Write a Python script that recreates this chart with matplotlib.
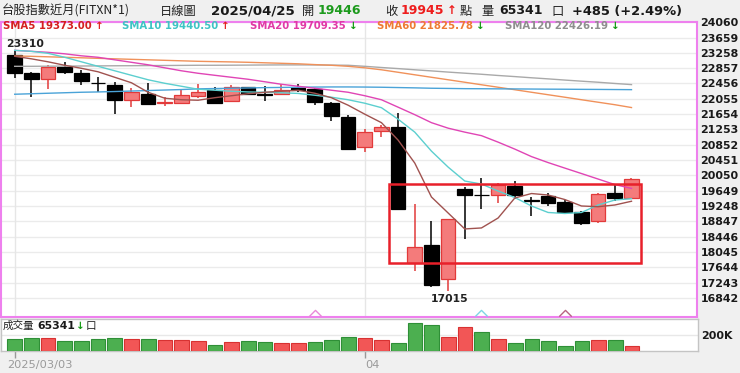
import matplotlib
matplotlib.use('Agg')
import matplotlib.pyplot as plt
import matplotlib.transforms as mtransforms
from matplotlib.path import Path
import numpy as np

# ---------------- data ----------------
dates = ['2025/03/03', '2025/03/04', '2025/03/05', '2025/03/06', '2025/03/07',
         '2025/03/10', '2025/03/11', '2025/03/12', '2025/03/13', '2025/03/14',
         '2025/03/17', '2025/03/18', '2025/03/19', '2025/03/20', '2025/03/21',
         '2025/03/24', '2025/03/25', '2025/03/26', '2025/03/27', '2025/03/28',
         '2025/03/31', '2025/04/01', '2025/04/02', '2025/04/07', '2025/04/08',
         '2025/04/09', '2025/04/10', '2025/04/11', '2025/04/14', '2025/04/15',
         '2025/04/16', '2025/04/17', '2025/04/18', '2025/04/21', '2025/04/22',
         '2025/04/23', '2025/04/24', '2025/04/25']

opens = [23211, 22731, 22584, 22887, 22741, 22480, 22427, 22036, 22192, 21950,
         21947, 22130, 22290, 21995, 22360, 22175, 22174, 22345, 22323, 21957,
         21590, 20798, 21216, 21304, 17752, 18230, 17334, 19685, 19545, 19536,
         19771, 19395, 19510, 19361, 19084, 18865, 19580, 19446]
highs = [23310, 22750, 22932, 23018, 22819, 22626, 22495, 22339, 22469, 22104,
         22297, 22435, 22360, 22420, 22370, 22383, 22454, 22454, 22340, 21965,
         21626, 21260, 21364, 21670, 19301, 18857, 18901, 19737, 19972, 19840,
         19900, 19476, 19580, 19405, 19118, 19596, 19810, 19980]
lows = [22600, 22104, 22313, 22697, 22409, 22234, 21652, 21827, 21905, 21861,
        21913, 22078, 21935, 21970, 22148, 21999, 22150, 22234, 21887, 21477,
        20720, 20667, 21043, 19162, 17559, 17141, 17015, 18379, 19162, 19335,
        19424, 18987, 19249, 19032, 18745, 18813, 19387, 19440]
closes = [22731, 22574, 22887, 22757, 22522, 22469, 22017, 22234, 21913, 21962,
          22148, 22234, 21950, 22370, 22174, 22160, 22297, 22279, 21973, 21600,
          20738, 21189, 21304, 19162, 18170, 17185, 18901, 19536, 19536, 19790,
          19536, 19387, 19335, 19100, 18813, 19562, 19465, 19945]

volumes = [146000, 166000, 159000, 129000, 129000, 146000, 166000, 146000, 146000, 138000,
           138000, 125000, 79000, 113000, 125000, 109000, 104000, 96000, 113000, 138000,
           171000, 159000, 138000, 96000, 346000, 329000, 171000, 296000, 234000, 146000,
           96000, 154000, 121000, 66000, 121000, 138000, 138000, 65341]
vol_up = [0, 0, 1, 0, 0, 0, 0, 1, 0, 1,
          1, 1, 0, 1, 0, 0, 1, 1, 0, 0,
          0, 1, 1, 0, 0, 0, 1, 1, 0, 1,
          0, 0, 0, 0, 0, 1, 0, 1]

sma5 = [23167, 23101, 23023, 22932, 22853, 22762, 22618, 22475, 22226, 22070,
        22030, 22017, 22083, 22135, 22187, 22226, 22252, 22279, 22200, 22083,
        21887, 21652, 21430, 20973, 20372, 19484, 19066, 18648, 18674, 18935,
        19458, 19575, 19536, 19418, 19249, 19230, 19275, 19373.00]
sma10 = [23323, 23297, 23245, 23141, 23023, 22905, 22788, 22670, 22553, 22461,
         22383, 22305, 22279, 22252, 22234, 22226, 22213, 22195, 22148, 22096,
         22030, 21939, 21822, 21521, 21182, 20685, 20267, 19902, 19823, 19640,
         19471, 19249, 19079, 19053, 19079, 19275, 19405, 19440.50]
sma20 = [23323, 23297, 23271, 23232, 23180, 23141, 23075, 23010, 22945, 22866,
         22788, 22723, 22670, 22618, 22566, 22501, 22435, 22383, 22331, 22279,
         22226, 22135, 22030, 21835, 21639, 21430, 21286, 21182, 21090, 20920,
         20738, 20542, 20385, 20241, 20098, 19954, 19810, 19709.35]
sma60 = [23175, 23167, 23154, 23141, 23128, 23114, 23101, 23088, 23075, 23062,
         23049, 23036, 23028, 23020, 23010, 22997, 22984, 22971, 22950, 22932,
         22905, 22866, 22814, 22749, 22683, 22618, 22553, 22488, 22422, 22357,
         22292, 22226, 22161, 22096, 22030, 21965, 21900, 21825.78]
sma120 = [22905, 22905, 22908, 22911, 22913, 22916, 22919, 22921, 22924, 22926,
          22929, 22932, 22932, 22934, 22937, 22940, 22942, 22942, 22940, 22937,
          22932, 22905, 22874, 22845, 22814, 22785, 22754, 22725, 22697, 22665,
          22636, 22605, 22576, 22545, 22516, 22488, 22456, 22426.19]
sma240 = [22174, 22187, 22200, 22213, 22226, 22234, 22245, 22258, 22271, 22284,
          22297, 22315, 22323, 22331, 22339, 22347, 22352, 22357, 22362, 22365,
          22365, 22362, 22357, 22349, 22341, 22331, 22326, 22320, 22318, 22315,
          22313, 22310, 22307, 22305, 22302, 22300, 22297, 22294]

price_ticks = [24060, 23659, 23258, 22857, 22456, 22055, 21654, 21253, 20852, 20451,
               20050, 19649, 19248, 18847, 18446, 18045, 17644, 17243, 16842]
vol_ticks = [200000]
vol_tick_labels = ['200K']

hdr_title = '台股指數近月(FITXN*1)'
hdr_kind = '日線圖'
hdr_change = 485
hdr_pct = 2.49

box_first, box_last = 23, 37          # highlighted consolidation range (candle indices)
box_low, box_high = 17768, 19815      # price bounds of highlighted range

# ---------------- style ----------------
W, H = 740, 373
fig = plt.figure(figsize=(W / 100, H / 100), dpi=100, facecolor='#f0f0f0')
CJK = ['Noto Sans CJK TC', 'DejaVu Sans']

def ax_rect(x0, y0, x1, y1):
    return [x0 / W, 1 - y1 / H, (x1 - x0) / W, (y1 - y0) / H]

ax = fig.add_axes(ax_rect(1, 21.5, 697, 316.7))
axv = fig.add_axes(ax_rect(1, 319.3, 697.5, 351))
for a in (ax, axv):
    a.set_facecolor('white')

n = len(closes)
x = np.arange(n)
xlim = (-0.822, 40.93)

RED_FILL, RED_EDGE = '#f47b7b', '#e23a3a'
BLACK = '#000000'
c_ma5, c_ma10, c_ma20, c_ma60, c_ma120, c_ma240 = '#a0524f', '#5ccfcf', '#e045b5', '#f0915a', '#a9a9a9', '#4aa3d8'

# grid
for v in price_ticks:
    ax.axhline(v, color='#ebebeb', lw=1, zorder=0)
month_starts = [0] + [i for i in range(1, n) if dates[i][5:7] != dates[i - 1][5:7]]
for i in month_starts:
    ax.axvline(i, color='#e6e6e6', lw=1, zorder=0)

# candles
bw = 0.88
for i in range(n):
    o, h, l, c = opens[i], highs[i], lows[i], closes[i]
    up = c > o
    wc = RED_EDGE if up else BLACK
    ax.vlines(i, l, h, color=wc, lw=1.1, zorder=2)
    body = max(abs(c - o), 8)
    ax.bar(i, body, bottom=min(o, c), width=bw,
           color=RED_FILL if up else BLACK, edgecolor=wc, lw=0.9, zorder=3)

# moving averages
for arr, col in [(sma120, c_ma120), (sma60, c_ma60), (sma240, c_ma240),
                 (sma20, c_ma20), (sma10, c_ma10), (sma5, c_ma5)]:
    ax.plot(x, arr, color=col, lw=1.0, zorder=4)

# deduction markers for MA5/10/20
chev = Path([(-1, -0.5), (0, 0.5), (1, -0.5)], [Path.MOVETO, Path.LINETO, Path.LINETO])
for period, col in [(20, '#e88ad8'), (10, '#7fd6e4'), (5, '#b86482')]:
    ax.plot([n - period], [0.011], marker=chev, ms=9, mfc='none', mec=col, mew=1.0,
            ls='none', transform=ax.get_xaxis_transform(), zorder=5, clip_on=False)

# highlight rectangle
ax.add_patch(plt.Rectangle((box_first - 0.55, box_low), (box_last - box_first) + 1.1,
                           box_high - box_low, fill=False, ec='#e8202a', lw=1.8, zorder=6))

# high / low labels
ih, il = int(np.argmax(highs)), int(np.argmin(lows))
ax.annotate(str(highs[ih]), (ih, highs[ih]), xytext=(-9, 1.5), textcoords='offset pixels',
            ha='left', va='bottom', fontsize=7.8, fontweight='bold', color='#222222', zorder=7)
ax.annotate(str(lows[il]), (il, lows[il]), xytext=(2, -3), textcoords='offset pixels',
            ha='center', va='top', fontsize=7.8, fontweight='bold', color='#222222', zorder=7)

ax.set_xlim(*xlim)
ax.set_ylim(16351, 24078)
ax.set_xticks([])
ax.yaxis.tick_right()
ax.set_yticks(price_ticks)
ax.set_yticklabels([str(v) for v in price_ticks], fontsize=7.9, fontweight='bold', color='#1a1a1a')
ax.tick_params(axis='y', length=0, pad=2.5)
for s in ax.spines.values():
    s.set_color('#ee80ee')
    s.set_linewidth(1.5)

# volume
for i in range(n):
    up = vol_up[i] == 1
    axv.bar(i, volumes[i], width=bw, color='#f25656' if up else '#4caf50',
            edgecolor='#d83232' if up else '#2f8f37', lw=0.8, zorder=3)
for v in vol_ticks:
    axv.axhline(v, color='#e8e8e8', lw=1, zorder=0)
axv.set_xlim(*xlim)
axv.set_ylim(0, 396000)
axv.yaxis.tick_right()
axv.set_yticks(vol_ticks)
axv.set_yticklabels(vol_tick_labels, fontsize=7.9, fontweight='bold', color='#1a1a1a')
axv.tick_params(axis='y', length=0, pad=2.5)
axv.set_xticks(month_starts)
axv.set_xticklabels([])
axv.tick_params(axis='x', length=5, color='#999999', width=1)
for s in axv.spines.values():
    s.set_color('#c4c4c4')
    s.set_linewidth(1)
trans_v = mtransforms.blended_transform_factory(axv.transData, axv.transAxes)
for k, i in enumerate(month_starts):
    lab = dates[i] if k == 0 else dates[i][5:7]
    off = -8 if k == 0 else 0
    axv.text(i, -0.44, lab, transform=trans_v + mtransforms.ScaledTranslation(off / 100, 0, fig.dpi_scale_trans),
             ha='left', va='center', fontsize=8.2, color='#9a9a9a')

# ---------------- text rows ----------------
def ftext(px, py, s, **kw):
    kw.setdefault('va', 'center')
    kw.setdefault('ha', 'left')
    return fig.text(px / W, 1 - py / H, s, **kw)

def right_edge(t):
    fig.canvas.draw()
    return t.get_window_extent().x1

ty = 11
NUM = dict(fontsize=9.0, fontweight='bold')
ftext(2, ty, hdr_title, family=CJK, fontsize=8.8, color='#222222')
ftext(160, ty, hdr_kind, family=CJK, fontsize=8.8, color='#222222')
ftext(211, ty, dates[-1], fontsize=9.6, fontweight='bold', color='#1a1a1a')
ftext(302, ty, '開', family=CJK, fontsize=8.8, color='#222222')
ftext(318, ty, str(opens[-1]), color='#1c9a1c', **NUM)
ftext(385, ty, '收', family=CJK, fontsize=8.8, color='#222222')
t = ftext(401, ty, str(closes[-1]), color='#ee1c1c', **NUM)
t2 = ftext(right_edge(t) + 2, ty, '↑', fontsize=8.5, fontweight='bold', color='#ee1c1c')
ftext(right_edge(t2) + 3, ty, '點', family=CJK, fontsize=8.8, color='#222222')
ftext(481, ty, '量', family=CJK, fontsize=8.8, color='#222222')
ftext(499, ty, str(volumes[-1]), color='#1a1a1a', **NUM)
ftext(551, ty, '口', family=CJK, fontsize=8.8, color='#222222')
ftext(572, ty, f'+{hdr_change} (+{hdr_pct:.2f}%)', fontsize=9.4, fontweight='bold', color='#1a1a1a')

# MA legend row
sy = 26
legend = [('SMA5', sma5, '#d42020', 3), ('SMA10', sma10, '#3ec4c4', 122),
          ('SMA20', sma20, '#e03aa6', 250), ('SMA60', sma60, '#ee7a34', 377),
          ('SMA120', sma120, '#8e8e8e', 505)]
for name, arr, col, px in legend:
    t = ftext(px, sy, f'{name} {arr[-1]:.2f}', fontsize=7.3, fontweight='bold', color=col)
    up = arr[-1] >= arr[-2]
    ftext(right_edge(t) + 3, sy, '↑' if up else '↓', fontsize=7.5, fontweight='bold',
          color='#e02020' if up else '#139a13')

# volume header
vy = 326
ftext(3, vy, '成交量', family=CJK, fontsize=7.6, color='#222222')
t = ftext(37, vy, str(volumes[-1]), fontsize=7.8, fontweight='bold', color='#1a1a1a')
down = volumes[-1] < volumes[-2]
t2 = ftext(right_edge(t) + 1, vy, '↓' if down else '↑', fontsize=7.5, fontweight='bold',
           color='#139a13' if down else '#e02020')
ftext(right_edge(t2) + 1, vy, '口', family=CJK, fontsize=7.6, color='#222222')

fig.savefig('out.png', dpi=100, facecolor=fig.get_facecolor())
